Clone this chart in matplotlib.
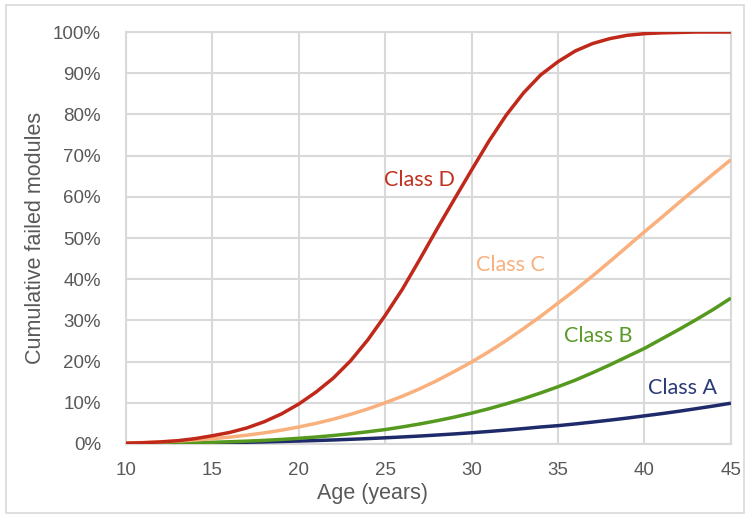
import matplotlib
matplotlib.use("Agg")
import matplotlib.pyplot as plt
from matplotlib.ticker import FuncFormatter

# Age in years
age = list(range(10, 46))

# Cumulative failed modules (%), one value per year
class_a = [0.07, 0.10, 0.13, 0.17, 0.22, 0.28, 0.34, 0.42, 0.51, 0.61,
           0.72, 0.84, 0.98, 1.14, 1.31, 1.50, 1.71, 1.93, 2.18, 2.44,
           2.73, 3.04, 3.38, 3.74, 4.13, 4.45, 4.87, 5.32, 5.79, 6.29,
           6.83, 7.37, 7.95, 8.58, 9.22, 9.90]
class_b = [0.07, 0.11, 0.16, 0.22, 0.30, 0.41, 0.54, 0.69, 0.88, 1.11,
           1.38, 1.69, 2.06, 2.49, 2.97, 3.50, 4.15, 4.86, 5.65, 6.52,
           7.49, 8.56, 9.74, 11.0, 12.4, 13.9, 15.5, 17.3, 19.2, 21.2,
           23.2, 25.5, 27.8, 30.2, 32.7, 35.4]
class_c = [0.25, 0.36, 0.52, 0.72, 0.97, 1.28, 1.67, 2.14, 2.70, 3.35,
           4.13, 5.01, 6.03, 7.20, 8.51, 10.0, 11.6, 13.4, 15.4, 17.6,
           19.9, 22.4, 25.1, 28.0, 31.0, 34.2, 37.4, 40.8, 44.3, 47.9,
           51.5, 55.0, 58.6, 62.1, 65.6, 69.0]
class_d = [0.2, 0.3, 0.5, 0.8, 1.3, 2.0, 2.8, 3.9, 5.4, 7.3,
           9.7, 12.6, 16.0, 20.2, 25.3, 31.2, 37.6, 44.8, 52.2, 59.4,
           66.5, 73.5, 79.8, 85.2, 89.6, 92.8, 95.4, 97.2, 98.4, 99.2,
           99.6, 99.8, 99.9, 100.0, 100.0, 100.0]

series_names = ["Class A", "Class B", "Class C", "Class D"]
series_values = [class_a, class_b, class_c, class_d]
series_colors = ["#1F2A6B", "#55991E", "#F9B07C", "#C0281A"]
label_colors = ["#2B3A78", "#5A9A28", "#F9B07C", "#C0321F"]
label_pos = [(42.2, 13.6), (37.3, 26.1), (32.25, 43.5), (27.0, 64.1)]

x_ticks = [10, 15, 20, 25, 30, 35, 40, 45]
y_ticks = [0, 10, 20, 30, 40, 50, 60, 70, 80, 90, 100]

plt.rcParams['font.family'] = ['Liberation Sans', 'DejaVu Sans']

fig = plt.figure(figsize=(7.45, 5.14), dpi=100)
ax = fig.add_axes([0.169, 0.1362, 0.812, 0.8015])

grid_c = "#D9D9D9"
for xv in x_ticks:
    ax.axvline(xv, color=grid_c, lw=1.5, zorder=0)
for yv in y_ticks:
    ax.axhline(yv, color=grid_c, lw=1.5, zorder=0)

for vals, col in zip(series_values, series_colors):
    ax.plot(age, vals, color=col, lw=2.5, solid_capstyle='butt',
            solid_joinstyle='round', zorder=3)

for name, (lx, ly), col in zip(series_names, label_pos, label_colors):
    ax.text(lx, ly, name, color=col, fontsize=15.5, family=['Lato', 'DejaVu Sans'],
            ha='center', va='center', zorder=4)

ax.set_xlim(10, 45)
ax.set_ylim(0, 100)
ax.set_xticks(x_ticks)
ax.set_yticks(y_ticks)
ax.yaxis.set_major_formatter(FuncFormatter(lambda v, p: f"{int(v)}%"))
ax.tick_params(length=0, labelsize=13.5, labelcolor="#595959")
ax.tick_params(axis='y', pad=18)
ax.tick_params(axis='x', pad=13)
for s in ax.spines.values():
    s.set_color(grid_c)
    s.set_linewidth(1.5)

ax.set_xlabel("Age (years)", fontsize=15.5, color="#595959")
ax.xaxis.set_label_coords((373 - 126) / 605, (444 - 494) / 412, transform=ax.transAxes)
ax.xaxis.label.set_va('center')
ax.set_ylabel("Cumulative failed modules", fontsize=15.5, color="#595959")
ax.yaxis.set_label_coords((36 - 126) / 605, 0.5, transform=ax.transAxes)
ax.yaxis.label.set_va('center')

# outer light border of the chart
fig.patches.append(plt.Rectangle((6 / 745, 1 / 514), 738 / 745, 508 / 514,
                                 transform=fig.transFigure, fill=False,
                                 edgecolor="#D9D9D9", lw=1.2))

fig.savefig("out.png", dpi=100)
